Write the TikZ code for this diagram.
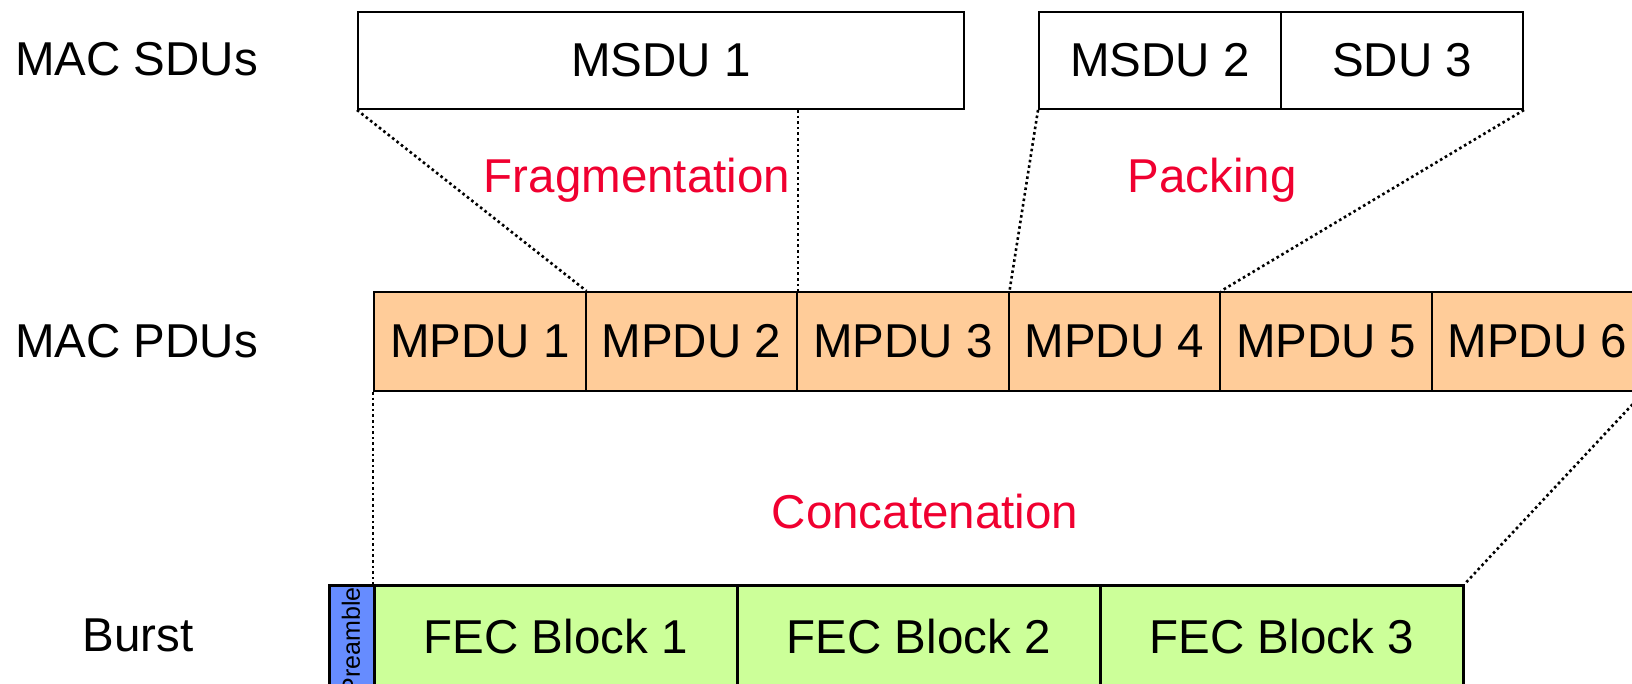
\documentclass[tikz,border=0pt]{standalone}
\usepackage{fontspec}
\setmainfont{Liberation Sans}
\definecolor{peach}{HTML}{FFCC99}
\definecolor{lime}{HTML}{CCFF99}
\definecolor{preblue}{HTML}{668CFF}
\definecolor{lblred}{HTML}{F00030}
\begin{document}
\begin{tikzpicture}[x=1pt,y=-1pt,
  big/.style={font=\fontsize{47.5}{56}\selectfont},
  box/.style={draw, line width=2pt, inner sep=0pt, anchor=north west, big},
  sdubox/.style={box, fill=white, minimum height=97.5pt},
  pdubox/.style={box, fill=peach, minimum height=99pt, minimum width=211.5pt},
  fecbox/.style={box, fill=lime, line width=2.6pt, minimum height=102pt, minimum width=363pt},
  rowlabel/.style={big, inner sep=0pt, anchor=west},
  oplabel/.style={big, inner sep=0pt, text=lblred},
  dots/.style={line width=2.6pt, dash pattern=on 2.6pt off 3pt}
]
\useasboundingbox (0,0) rectangle (1632,683);
\clip (0,0) rectangle (1632,683);

% row labels
\node[rowlabel] (lsdu) at (15,59) {MAC SDUs};
\node[rowlabel] (lpdu) at (15,341) {MAC PDUs};
\node[big, inner sep=0pt] (lburst) at (138,635) {Burst};

% SDUs
\node[sdubox, minimum width=606pt] (msdu1) at (357,10.5) {MSDU 1};
\node[sdubox, minimum width=242pt] (msdu2) at (1038,10.5) {MSDU 2};
\node[sdubox, minimum width=242pt] (sdu3) at (1280,10.5) {SDU 3};

% PDUs
\node[pdubox] (mpdu1) at (373,291) {MPDU 1};
\node[pdubox] (mpdu2) at (584.5,291) {MPDU 2};
\node[pdubox] (mpdu3) at (796,291) {MPDU 3};
\node[pdubox] (mpdu4) at (1007.5,291) {MPDU 4};
\node[pdubox] (mpdu5) at (1219,291) {MPDU 5};
\node[pdubox] (mpdu6) at (1430.5,291) {MPDU 6};

% Burst
\node[box, fill=preblue, line width=2.6pt, minimum width=45pt, minimum height=102pt] (pre) at (328,584) {};
\node[rotate=90, anchor=east, inner sep=0pt, font=\fontsize{25}{30}\selectfont] (pretext) at (351,587) {Preamble};
\node[fecbox] (fec1) at (373,584) {FEC Block 1};
\node[fecbox] (fec2) at (736,584) {FEC Block 2};
\node[fecbox] (fec3) at (1099,584) {FEC Block 3};

% operation labels
\node[oplabel] (frag) at (637,180) {Fragmentation};
\node[oplabel] (pack) at (1212,180) {Packing};
\node[oplabel] (conc) at (925,512) {Concatenation};

% dotted connectors
\draw[dots] (msdu1.south west) -- (mpdu1.north east);
\draw[dots] (mpdu2.north east |- msdu1.south) -- (mpdu2.north east);
\draw[dots] (msdu2.south west) -- (mpdu3.north east);
\draw[dots] (sdu3.south east) -- (mpdu4.north east);
\draw[dots] (mpdu1.south west) -- (fec1.north west);
\draw[dots] (mpdu6.south east) -- (fec3.north east);
\end{tikzpicture}
\end{document}
